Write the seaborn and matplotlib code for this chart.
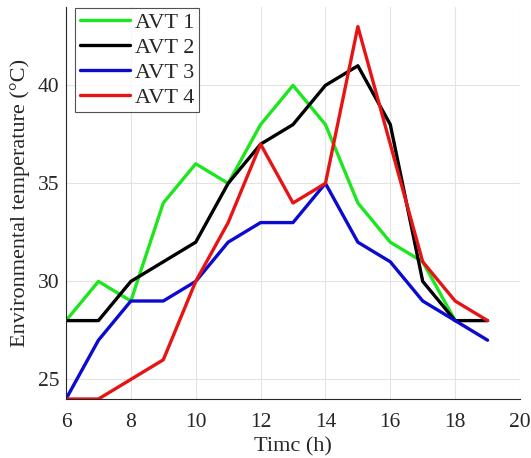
import matplotlib
matplotlib.use("Agg")
import matplotlib.pyplot as plt
import seaborn as sns
import pandas as pd

hours = list(range(6, 20))
avt1 = [28, 30, 29, 34, 36, 35, 38, 40, 38, 34, 32, 31, 28]
avt2 = [28, 28, 30, 31, 32, 35, 37, 38, 40, 41, 38, 30, 28, 28]
avt3 = [24, 27, 29, 29, 30, 32, 33, 33, 35, 32, 31, 29, 28, 27]
avt4 = [24, 24, 25, 26, 30, 33, 37, 34, 35, 43, 37, 31, 29, 28]
series = {"AVT 1": avt1, "AVT 2": avt2, "AVT 3": avt3, "AVT 4": avt4}
colors = {"AVT 1": "#1ee61e", "AVT 2": "#000000", "AVT 3": "#0a0ad2", "AVT 4": "#e61414"}

rows = []
for name, vals in series.items():
    for h, v in zip(hours, vals):
        rows.append({"Time": h, "Temp": v, "Series": name})
df = pd.DataFrame(rows)

sns.set_theme(style="white")
plt.rcParams['font.family'] = ['Liberation Serif', 'DejaVu Serif']

fig = plt.figure(figsize=(5.31, 4.58), dpi=100)
ax = fig.add_axes([0.1243, 0.1288, 0.855, 0.856])

sns.lineplot(data=df, x="Time", y="Temp", hue="Series", palette=colors,
             linewidth=2.4, ax=ax, legend=True)

ax.set_xlim(6, 20)
ax.set_ylim(24, 44)
ax.set_xticks([6, 8, 10, 12, 14, 16, 18, 20])
ax.set_yticks([25, 30, 35, 40])
ax.grid(True, color="#e3e3e3", linewidth=0.8)
ax.tick_params(direction="in", length=4, labelsize=15.5, colors="#262626",
               labelcolor="#262626", pad=5)
ax.tick_params(axis="x", pad=10)
for s in ["top", "right"]:
    ax.spines[s].set_visible(False)
for s in ["left", "bottom"]:
    ax.spines[s].set_color("#262626")
    ax.spines[s].set_linewidth(0.8)

ax.set_xlabel("Timc (h)", fontsize=16, color="#262626", labelpad=4)
ax.set_ylabel("Environmental temperature (°C)", fontsize=16, color="#262626", labelpad=5)

leg = ax.legend(loc="upper left", bbox_to_anchor=(0.02, 0.998), fontsize=16,
                frameon=True, fancybox=False,
                handlelength=2.25, handletextpad=0.25, borderpad=0.2,
                labelspacing=0.2, borderaxespad=0.0)
leg.get_frame().set_edgecolor("#262626")
leg.get_frame().set_linewidth(0.8)
for line in leg.get_lines():
    line.set_linewidth(2.4)

fig.savefig("out.png", dpi=100)
